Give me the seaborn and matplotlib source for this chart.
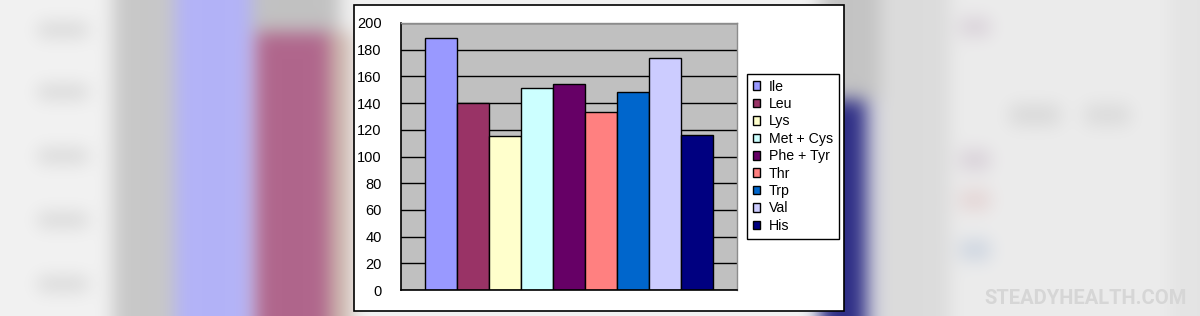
import numpy as np
import pandas as pd
import matplotlib
matplotlib.use("Agg")
import matplotlib.pyplot as plt
from matplotlib.patches import Rectangle
from matplotlib.colors import to_rgb
import seaborn as sns

# ---- data ----
amino_acids = ["Ile", "Leu", "Lys", "Met + Cys", "Phe + Tyr", "Thr", "Trp", "Val", "His"]
scores = [189, 140, 115, 151, 154, 133, 148, 174, 116]
bar_colors = ["#9999FF", "#993366", "#FFFFCC", "#CCFFFF", "#660066",
              "#FF8080", "#0066CC", "#CCCCFF", "#000080"]
y_ticks = [0, 20, 40, 60, 80, 100, 120, 140, 160, 180, 200]

df = pd.DataFrame({"amino": amino_acids, "score": scores})

sns.set_theme(style="white")
plt.rcParams["font.family"] = ["Liberation Sans", "DejaVu Sans"]

W, H = 1200, 316
fig = plt.figure(figsize=(W / 100, H / 100), dpi=100)

# ---- blurred decorative background ----
img = np.ones((H, W, 3)) * np.array(to_rgb("#f2f2f2"))
def fill(x0, x1, y0, y1, c):
    img[y0:y1, x0:x1] = to_rgb(c)
fill(113, 175, 0, H, "#c8c8c8")
fill(175, 252, 0, H, "#b3b3f8")
fill(252, 340, 0, 32, "#c2c2c2")
fill(255, 330, 32, H, "#b0668c")
fill(330, 352, 32, H, "#cdb8ae")
for yc in (30, 92, 156, 220, 284):
    fill(38, 88, yc - 7, yc + 7, "#d6d6d6")
fill(820, 880, 0, 100, "#c4c4c4")
fill(820, 866, 100, H, "#2e2e86")
fill(880, 950, 0, H, "#dcdcdc")
fill(866, 880, 100, H, "#d0d0dc")
fill(950, 1170, 0, H, "#ececec")
fill(1170, 1200, 0, H, "#e4e4e4")
fill(960, 990, 18, 36, "#d8d0d8")
fill(960, 990, 150, 170, "#d8d0d8")
fill(960, 990, 190, 210, "#e4d4d4")
fill(960, 990, 240, 260, "#ccd4e0")
fill(1010, 1060, 105, 125, "#d8d8d8")
fill(1085, 1130, 105, 125, "#dadada")
sigma = 9
k = np.arange(-3 * sigma, 3 * sigma + 1)
kern = np.exp(-k ** 2 / (2 * sigma ** 2)); kern /= kern.sum()
pad = 3 * sigma
for ch in range(3):
    a = np.pad(img[:, :, ch], pad, mode="edge")
    a = np.apply_along_axis(lambda r: np.convolve(r, kern, mode="same"), 1, a)
    a = np.apply_along_axis(lambda c: np.convolve(c, kern, mode="same"), 0, a)
    img[:, :, ch] = a[pad:-pad, pad:-pad]
bg = fig.add_axes([0, 0, 1, 1])
bg.imshow(np.clip(img, 0, 1), aspect="auto", extent=(0, W, H, 0))
bg.set_axis_off()
bg.set_zorder(-1)

# white chart panel
fig.patches.append(Rectangle((354 / W, (H - 311) / H), (844 - 354) / W, (311 - 5) / H,
                             transform=fig.transFigure, facecolor="white",
                             edgecolor="black", linewidth=1.2, zorder=0.5))

fig.text(1086 / W, (H - 299) / H, "STEADYHEALTH.COM", color="#d6d6d6",
         fontsize=14.5, fontweight="bold", family=["Roboto", "DejaVu Sans"],
         ha="center", va="center")

# ---- main chart ----
ax = fig.add_axes([401 / W, (H - 290) / H, (737 - 401) / W, (290 - 23) / H])
ax.set_zorder(2)
sns.barplot(data=df, x="amino", y="score", hue="amino", palette=bar_colors,
            width=1.0, dodge=False, edgecolor="black", linewidth=1.0,
            saturation=1, legend=True, ax=ax)
ax.set_facecolor("#c0c0c0")
ax.set_xlim(-1.25, 9.25)
ax.set_ylim(0, 200)
ax.set_yticks(y_ticks)
ax.set_yticklabels([str(v) for v in y_ticks], fontsize=10.5, color="black")
ax.tick_params(axis="y", length=0, pad=14)
ax.set_xticks([])
ax.set_xlabel("")
ax.set_ylabel("")
ax.set_axisbelow(True)
ax.yaxis.grid(True, color="black", linewidth=1.0)
ax.xaxis.grid(False)
for side in ("left", "bottom"):
    ax.spines[side].set_color("black")
    ax.spines[side].set_linewidth(1.2)
for side in ("top", "right"):
    ax.spines[side].set_color("#8c8c8c")
    ax.spines[side].set_linewidth(1.0)

handles, labels = ax.get_legend_handles_labels()
if ax.get_legend() is not None:
    ax.get_legend().remove()
leg = ax.legend(handles, labels, loc="upper left",
                bbox_to_anchor=(747 / W, (H - 74) / H), bbox_transform=fig.transFigure,
                fontsize=10.2, frameon=True, fancybox=False, framealpha=1,
                edgecolor="black", facecolor="white", handlelength=0.55,
                handleheight=0.55, handletextpad=0.6, labelspacing=0.24,
                borderpad=0.4, borderaxespad=0)
leg.get_frame().set_linewidth(1.0)
for t in leg.get_texts():
    t.set_color("black")

fig.savefig("out.png", dpi=100)
